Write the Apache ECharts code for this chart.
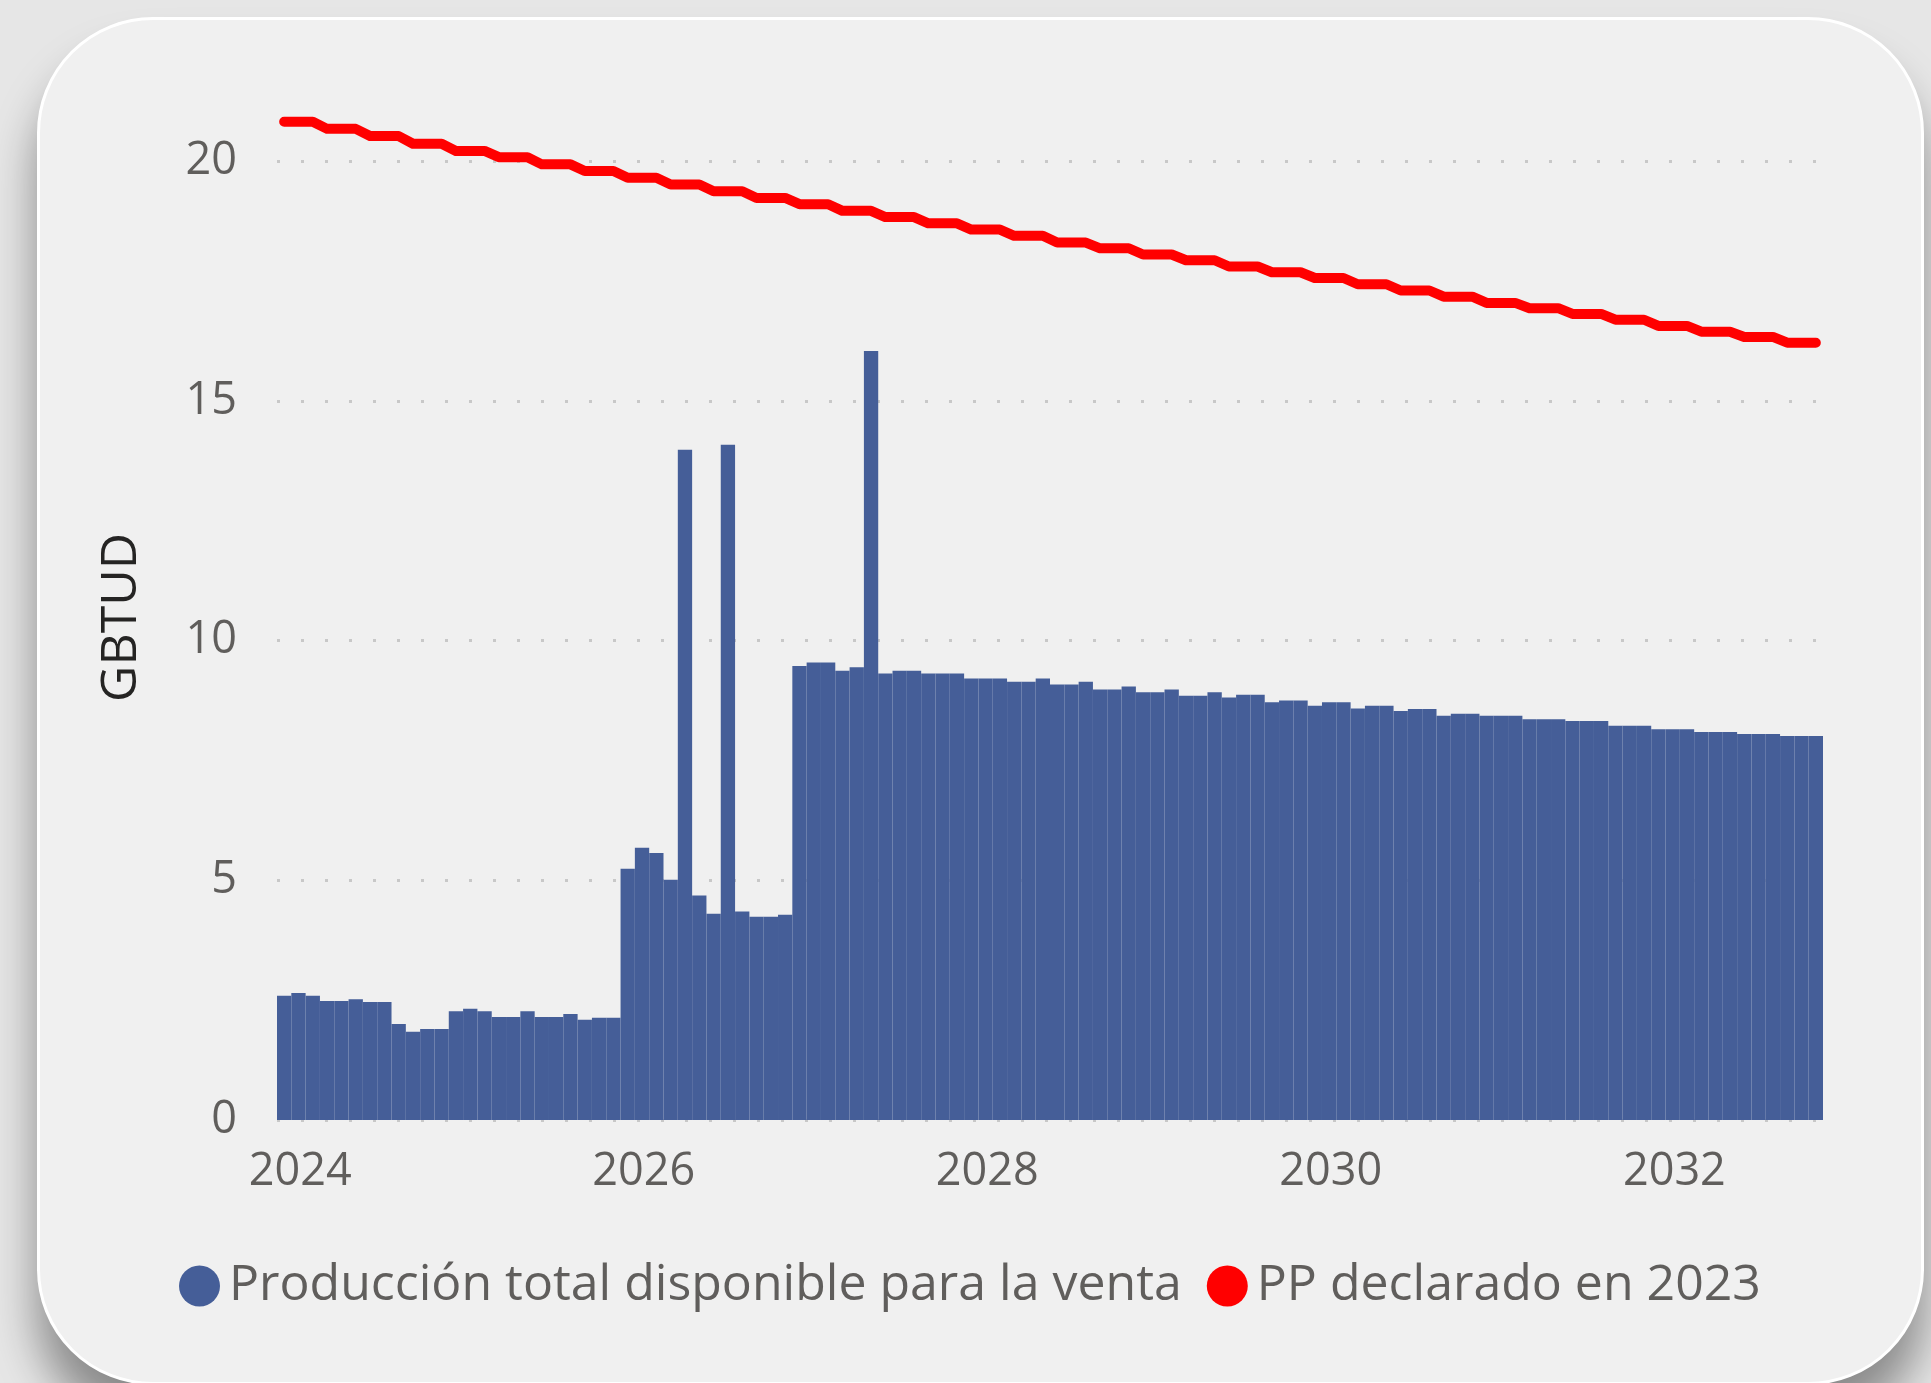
<!DOCTYPE html>
<html>
<head>
<meta charset="utf-8">
<script src="https://cdn.jsdelivr.net/npm/echarts@6/dist/echarts.min.js"></script>
<style>
    html, body {margin: 0; padding: 0; width: 1931px; height: 1383px; overflow: hidden; background: #e6e6e6;}
    #card {
        position: absolute; left: 37px; top: 17px; width: 1881px; height: 1362px;
        background: #f0f0f0; border: 3px solid #ffffff; border-radius: 116px;
        box-shadow: 0 40px 45px rgba(0, 0, 0, 0.4);
    }
    #chartmain {position: absolute; left: 0; top: 0; width: 1931px; height: 1383px;}
</style>
</head>
<body>
<div id="card"></div>
<div id="chartmain"></div>
<script>
// meses ene 2024 - dic 2032
var years = ['2024', '2025', '2026', '2027', '2028', '2029', '2030', '2031', '2032'];
var months = [];
for (var y = 0; y < years.length; y++) {
    for (var m = 1; m <= 12; m++) {
        months.push(years[y] + '-' + (m < 10 ? '0' + m : m));
    }
}
var yTicks = [0, 5, 10, 15, 20];

// Producción total disponible para la venta (GBTUD)
var produccion = [
    2.59, 2.65, 2.59, 2.48, 2.48, 2.52, 2.46, 2.46, 2.00, 1.84, 1.90, 1.90,
    2.27, 2.32, 2.27, 2.15, 2.15, 2.27, 2.15, 2.15, 2.21, 2.09, 2.13, 2.13,
    5.24, 5.68, 5.57, 5.01, 13.98, 4.68, 4.30, 14.08, 4.35, 4.24, 4.24, 4.28,
    9.47, 9.54, 9.54, 9.37, 9.44, 16.04, 9.31, 9.37, 9.37, 9.31, 9.31, 9.31,
    9.21, 9.21, 9.21, 9.14, 9.14, 9.21, 9.08, 9.08, 9.14, 8.98, 8.98, 9.04,
    8.92, 8.92, 8.98, 8.85, 8.85, 8.92, 8.81, 8.87, 8.87, 8.71, 8.75, 8.75,
    8.64, 8.71, 8.71, 8.58, 8.64, 8.64, 8.53, 8.57, 8.57, 8.43, 8.47, 8.47,
    8.43, 8.43, 8.43, 8.36, 8.36, 8.36, 8.32, 8.32, 8.32, 8.22, 8.22, 8.22,
    8.15, 8.15, 8.15, 8.09, 8.09, 8.09, 8.05, 8.05, 8.05, 8.01, 8.01, 8.01
];

// PP declarado en 2023 (valor trimestral, repetido por mes)
var ppDeclarado = [
    20.82, 20.82, 20.82, 20.67, 20.67, 20.67, 20.52, 20.52, 20.52, 20.36, 20.36, 20.36,
    20.21, 20.21, 20.21, 20.08, 20.08, 20.08, 19.93, 19.93, 19.93, 19.79, 19.79, 19.79,
    19.65, 19.65, 19.65, 19.51, 19.51, 19.51, 19.37, 19.37, 19.37, 19.23, 19.23, 19.23,
    19.10, 19.10, 19.10, 18.96, 18.96, 18.96, 18.83, 18.83, 18.83, 18.70, 18.70, 18.70,
    18.57, 18.57, 18.57, 18.44, 18.44, 18.44, 18.30, 18.30, 18.30, 18.18, 18.18, 18.18,
    18.05, 18.05, 18.05, 17.93, 17.93, 17.93, 17.80, 17.80, 17.80, 17.68, 17.68, 17.68,
    17.56, 17.56, 17.56, 17.43, 17.43, 17.43, 17.30, 17.30, 17.30, 17.17, 17.17, 17.17,
    17.04, 17.04, 17.04, 16.93, 16.93, 16.93, 16.81, 16.81, 16.81, 16.69, 16.69, 16.69,
    16.56, 16.56, 16.56, 16.44, 16.44, 16.44, 16.33, 16.33, 16.33, 16.21, 16.21, 16.21
];

var fontName = 'Open Sans';
var grisTexto = '#605e5c';

var myChart = echarts.init(document.getElementById('chartmain'));
myChart.setOption({
    animation: false,
    textStyle: {fontFamily: fontName},
    grid: {left: 277, right: 108, top: 161, bottom: 263},
    legend: {
        left: 174, top: 1256,
        icon: 'circle', itemWidth: 41, itemHeight: 41, itemGap: 25,
        textStyle: {fontSize: 50, color: grisTexto, fontFamily: fontName, padding: [0, 0, 0, 4]},
        data: ['Producción total disponible para la venta', 'PP declarado en 2023']
    },
    xAxis: {
        type: 'category',
        data: months,
        boundaryGap: true,
        axisLine: {show: false},
        axisTick: {show: false},
        axisLabel: {
            interval: 23,
            margin: 30,
            fontSize: 45,
            color: grisTexto,
            padding: [0, 0, 0, 32],
            formatter: function (v) { return v.substring(0, 4); }
        }
    },
    yAxis: {
        type: 'value',
        min: yTicks[0], max: yTicks[yTicks.length - 1], interval: 5,
        axisLine: {show: false},
        axisTick: {show: false},
        axisLabel: {fontSize: 45, color: grisTexto, margin: 40},
        splitLine: {lineStyle: {color: '#c8c8c8', width: 3, type: [3, 21]}}
    },
    graphic: [{
        type: 'text', left: 97, top: 533, rotation: Math.PI / 2,
        style: {text: 'GBTUD', fontSize: 50, fill: '#252423', fontFamily: fontName}
    }],
    series: [{
        name: 'Producción total disponible para la venta',
        type: 'bar',
        data: produccion,
        barCategoryGap: '0%',
        itemStyle: {color: '#455e98'}
    }, {
        name: 'PP declarado en 2023',
        type: 'line',
        data: ppDeclarado,
        showSymbol: false,
        clip: false,
        itemStyle: {color: '#ff0000'},
        lineStyle: {color: '#ff0000', width: 10, cap: 'round', join: 'round'}
    }]
});
</script>
</body>
</html>
